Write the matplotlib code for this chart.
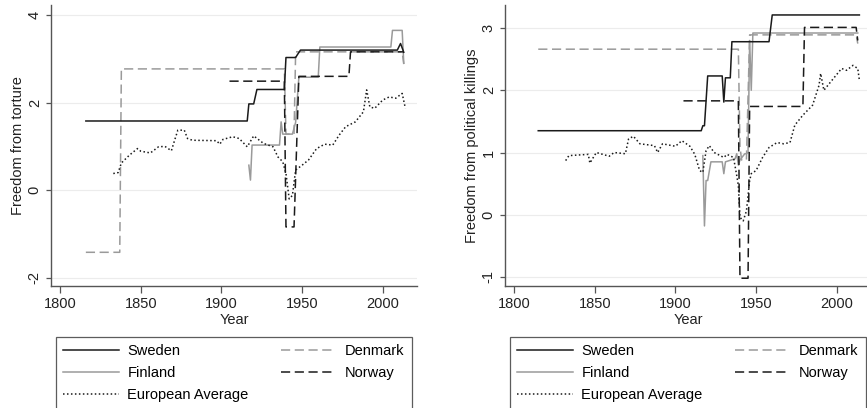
import matplotlib
matplotlib.use("Agg")
import matplotlib.pyplot as plt
from matplotlib.lines import Line2D

plt.rcParams['font.family'] = ['Liberation Sans', 'DejaVu Sans']
plt.rcParams['font.size'] = 10.5

# ---- data: freedom from torture (left panel) ----
sweden_t_years = [1816, 1916, 1917, 1920, 1922, 1939, 1940, 1946, 1947, 1949, 2009, 2011, 2013]
sweden_t = [1.58, 1.58, 1.97, 1.97, 2.30, 2.30, 3.03, 3.03, 3.09, 3.20, 3.20, 3.35, 3.15]

finland_t_years = [1917, 1918, 1919, 1936, 1937, 1938, 1944, 1946, 1948, 1960, 1961, 2005, 2006, 2012, 2013]
finland_t = [0.57, 0.23, 1.03, 1.03, 1.56, 1.28, 1.28, 1.55, 2.58, 2.58, 3.27, 3.27, 3.65, 3.65, 2.90]

denmark_t_years = [1816, 1837, 1838, 1939, 1940, 1945, 1946, 2012, 2013]
denmark_t = [-1.42, -1.42, 2.77, 2.77, 1.28, 1.28, 3.16, 3.16, 2.88]

norway_t_years = [1905, 1939, 1940, 1945, 1948, 1979, 1980, 2013]
norway_t = [2.49, 2.49, -0.84, -0.84, 2.60, 2.60, 3.16, 3.16]

euro_t_years = [1833, 1836, 1838, 1843, 1848, 1850, 1856, 1861, 1865, 1869, 1871, 1873, 1877,
                1879, 1882, 1897, 1899, 1901, 1907, 1911, 1916, 1920, 1926, 1932, 1935, 1938,
                1940, 1942, 1944, 1946, 1950, 1954, 1959, 1964, 1969, 1973, 1977, 1983, 1988,
                1990, 1992, 1995, 2000, 2004, 2008, 2012, 2014]
euro_t = [0.38, 0.40, 0.62, 0.80, 0.95, 0.89, 0.85, 0.99, 1.00, 0.90, 1.14, 1.37, 1.37,
          1.18, 1.14, 1.13, 1.05, 1.16, 1.22, 1.18, 0.99, 1.24, 1.07, 0.99, 0.76, 0.65,
          0.38, -0.20, -0.12, 0.46, 0.57, 0.69, 0.95, 1.05, 1.03, 1.26, 1.45, 1.56, 1.79,
          2.29, 1.90, 1.87, 2.06, 2.13, 2.10, 2.21, 1.87]

# ---- data: freedom from political killings (right panel) ----
sweden_k_years = [1815, 1916, 1917, 1918, 1920, 1929, 1930, 1931, 1934, 1935, 1958, 1960, 2014]
sweden_k = [1.35, 1.35, 1.43, 1.43, 2.23, 2.23, 1.81, 2.20, 2.20, 2.78, 2.78, 3.21, 3.21]

finland_k_years = [1917, 1918, 1919, 1920, 1922, 1929, 1930, 1931, 1937, 1938, 1939, 1940,
                   1943, 1944, 1945, 1946, 1947, 1948, 2013]
finland_k = [0.95, -0.18, 0.55, 0.55, 0.85, 0.85, 0.66, 0.85, 0.90, 0.98, 0.80, 0.88,
             0.98, 0.98, 1.00, 2.80, 2.00, 2.92, 2.92]

denmark_k_years = [1815, 1939, 1940, 1941, 1944, 1946, 2012, 2013]
denmark_k = [2.66, 2.66, 1.10, 0.88, 0.88, 2.89, 2.89, 2.75]

norway_k_years = [1905, 1939, 1940, 1945, 1946, 1979, 1980, 2012, 2013]
norway_k = [1.83, 1.83, -1.02, -1.02, 1.74, 1.74, 3.01, 3.01, 2.80]

euro_k_years = [1832, 1834, 1846, 1847, 1851, 1859, 1862, 1869, 1871, 1874, 1878, 1887, 1889,
                1892, 1900, 1904, 1909, 1912, 1915, 1917, 1919, 1921, 1924, 1930, 1932, 1936,
                1938, 1939, 1940, 1942, 1944, 1946, 1947, 1950, 1954, 1958, 1963, 1967, 1971,
                1974, 1979, 1985, 1989, 1990, 1992, 1997, 2003, 2006, 2010, 2013, 2014]
euro_k = [0.87, 0.95, 0.97, 0.83, 1.00, 0.94, 1.00, 0.98, 1.22, 1.26, 1.14, 1.11, 1.00,
          1.14, 1.10, 1.19, 1.10, 0.97, 0.71, 0.68, 1.03, 1.11, 1.00, 0.92, 0.97, 0.92,
          0.63, 0.47, -0.04, -0.10, 0.06, 0.55, 0.66, 0.71, 0.92, 1.08, 1.16, 1.14, 1.16,
          1.44, 1.60, 1.76, 2.08, 2.27, 2.00, 2.16, 2.35, 2.32, 2.40, 2.35, 2.16]

labels = ["Sweden", "Finland", "European Average", "Denmark", "Norway"]

# line styles (Stata-like greyscale)
styles = {
    "Sweden": dict(color="#1a1a1a", lw=1.1, ls="-"),
    "Finland": dict(color="#9a9a9a", lw=1.1, ls="-"),
    "European Average": dict(color="#1a1a1a", lw=1.1, ls=(0, (1, 1.6))),
    "Denmark": dict(color="#9a9a9a", lw=1.1, ls=(0, (6, 3))),
    "Norway": dict(color="#1a1a1a", lw=1.1, ls=(0, (6, 3))),
}

fig = plt.figure(figsize=(8.67, 4.08), dpi=100)
W, H = 867, 408

panels = [
    dict(left=51, ylabel="Freedom from torture", ylim=(-2.19, 4.23), yticks=[-2, 0, 2, 4],
         data={"Sweden": (sweden_t_years, sweden_t), "Finland": (finland_t_years, finland_t),
               "European Average": (euro_t_years, euro_t), "Denmark": (denmark_t_years, denmark_t),
               "Norway": (norway_t_years, norway_t)}),
    dict(left=505, ylabel="Freedom from political killings", ylim=(-1.145, 3.37), yticks=[-1, 0, 1, 2, 3],
         data={"Sweden": (sweden_k_years, sweden_k), "Finland": (finland_k_years, finland_k),
               "European Average": (euro_k_years, euro_k), "Denmark": (denmark_k_years, denmark_k),
               "Norway": (norway_k_years, norway_k)}),
]

for p in panels:
    ax = fig.add_axes([p["left"] / W, 1 - 286 / H, 366 / W, 281 / H])
    # draw order: lighter lines first
    for name in ["Denmark", "Finland", "European Average", "Norway", "Sweden"]:
        x, y = p["data"][name]
        ax.plot(x, y, **styles[name])
    ax.set_xlim(1794.4, 2021.2)
    ax.set_ylim(*p["ylim"])
    ax.set_xticks([1800, 1850, 1900, 1950, 2000])
    ax.set_yticks(p["yticks"])
    ax.set_yticklabels([str(v) for v in p["yticks"]], rotation=90, va="center")
    ax.grid(axis="y", color="#ececec", lw=0.8)
    ax.set_axisbelow(True)
    for s in ["top", "right"]:
        ax.spines[s].set_visible(False)
    for s in ["left", "bottom"]:
        ax.spines[s].set_color("#555555")
        ax.spines[s].set_linewidth(1.0)
    ax.tick_params(axis="x", length=5, width=0.9, color="#555555", pad=3, labelcolor="#222222")
    ax.tick_params(axis="y", length=3.6, width=0.9, color="#555555", pad=3, labelcolor="#222222")
    ax.set_xlabel("Year", labelpad=1, color="#222222")
    ax.set_ylabel(p["ylabel"], labelpad=2, color="#222222")

    handles = [Line2D([], [], **styles[n]) for n in labels]
    ax.legend(handles, labels, ncol=2, mode="expand", loc="upper left",
              bbox_to_anchor=((p["left"] + 5) / W, 1 - 337 / H - 0.3, 356 / W, 0.3),
              bbox_transform=fig.transFigure, borderaxespad=0, frameon=True, fancybox=False,
              edgecolor="#333333", handlelength=3.8, handletextpad=0.6, labelspacing=0.55,
              borderpad=0.5, columnspacing=1.5)
    ax.get_legend().get_frame().set_linewidth(0.9)

fig.savefig("out.png", dpi=100)
